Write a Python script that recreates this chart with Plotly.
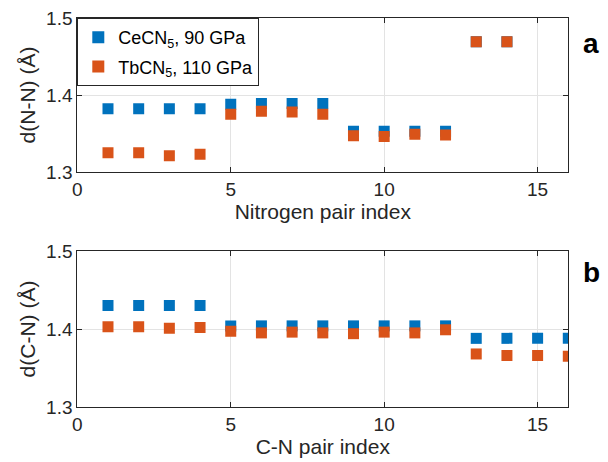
import plotly.graph_objects as go

# Top panel: N-N distances
nn_index = list(range(1, 15))
nn_ce = [1.382, 1.382, 1.382, 1.382, 1.388, 1.389, 1.389, 1.389,
         1.353, 1.353, 1.353, 1.353, 1.469, 1.469]
nn_tb = [1.325, 1.325, 1.321, 1.323, 1.375, 1.379, 1.378, 1.375,
         1.347, 1.346, 1.349, 1.348, 1.469, 1.469]

# Bottom panel: C-N distances
cn_index = list(range(1, 17))
cn_ce = [1.430, 1.430, 1.430, 1.430, 1.404, 1.404, 1.404, 1.404,
         1.404, 1.404, 1.404, 1.404, 1.388, 1.388, 1.388, 1.388]
cn_tb = [1.403, 1.403, 1.401, 1.402, 1.397, 1.395, 1.396, 1.395,
         1.394, 1.396, 1.395, 1.399, 1.368, 1.366, 1.366, 1.365]

x_ticks = [0, 5, 10, 15]
y_ticks = [1.3, 1.4, 1.5]

BLUE = "#0072BD"
ORANGE = "#D95319"
FONT = "Liberation Sans, Arial, sans-serif"
AXC = "#262626"

fig = go.Figure()
mk = dict(symbol="square", size=11, line=dict(width=0))
fig.add_trace(go.Scatter(x=nn_index, y=nn_ce, mode="markers", name="CeCN<sub>5</sub>, 90 GPa",
                         legendgroup="ce", marker=dict(color=BLUE, **mk), xaxis="x", yaxis="y"))
fig.add_trace(go.Scatter(x=nn_index, y=nn_tb, mode="markers", name="TbCN<sub>5</sub>, 110 GPa",
                         legendgroup="tb", marker=dict(color=ORANGE, **mk), xaxis="x", yaxis="y"))
fig.add_trace(go.Scatter(x=cn_index, y=cn_ce, mode="markers", showlegend=False,
                         marker=dict(color=BLUE, **mk), xaxis="x2", yaxis="y2"))
fig.add_trace(go.Scatter(x=cn_index, y=cn_tb, mode="markers", showlegend=False,
                         marker=dict(color=ORANGE, **mk), xaxis="x2", yaxis="y2"))

W, H = 608, 462
xd = [77.3 / W, 568.3 / W]
top_d = [(H - 172) / H, (H - 18) / H]
bot_d = [(H - 407) / H, (H - 251) / H]

def xax(title, anchor, domain):
    return dict(domain=domain, anchor=anchor, range=[0, 16], tickvals=x_ticks,
                automargin=False,
                showgrid=True, gridcolor="#e3e3e3", gridwidth=1, zeroline=False,
                showline=True, linecolor=AXC, linewidth=1, mirror="ticks",
                ticks="inside", ticklen=5, tickcolor=AXC,
                tickfont=dict(size=19, color=AXC, family=FONT),
                title=dict(text=title, font=dict(size=21, color=AXC, family=FONT), standoff=3))

def yax(title, anchor, domain):
    return dict(domain=domain, anchor=anchor, range=[1.3, 1.5], tickvals=y_ticks,
                tickformat=".1f", automargin=False,
                showgrid=True, gridcolor="#e3e3e3", gridwidth=1, zeroline=False,
                showline=True, linecolor=AXC, linewidth=1, mirror="ticks",
                ticks="inside", ticklen=5, tickcolor=AXC,
                tickfont=dict(size=19, color=AXC, family=FONT),
                title=dict(text=title, font=dict(size=21, color=AXC, family=FONT), standoff=4))

fig.update_layout(
    width=W, height=H, margin=dict(l=0, r=0, t=0, b=0, autoexpand=False),
    paper_bgcolor="white", plot_bgcolor="white",
    font=dict(family=FONT, color=AXC),
    xaxis=xax("Nitrogen pair index", "y", xd),
    yaxis=yax("d(N-N) (Å)", "x", top_d),
    xaxis2=xax("C-N pair index", "y2", xd),
    yaxis2=yax("d(C-N) (Å)", "x2", bot_d),
    legend=dict(x=xd[0], y=top_d[1], xanchor="left", yanchor="top",
                bgcolor="white", bordercolor=AXC, borderwidth=1,
                font=dict(size=18, color="black", family=FONT),
                itemsizing="constant", tracegroupgap=3, itemwidth=30),
    showlegend=True,
)
fig.add_annotation(text="<b>a</b>", x=591 / W, y=(H - 43) / H, xref="paper", yref="paper",
                   xanchor="center", yanchor="middle",
                   showarrow=False, font=dict(size=28, color="black", family=FONT))
fig.add_annotation(text="<b>b</b>", x=591 / W, y=(H - 272) / H, xref="paper", yref="paper",
                   xanchor="center", yanchor="middle",
                   showarrow=False, font=dict(size=28, color="black", family=FONT))

fig.write_html("out.html")
